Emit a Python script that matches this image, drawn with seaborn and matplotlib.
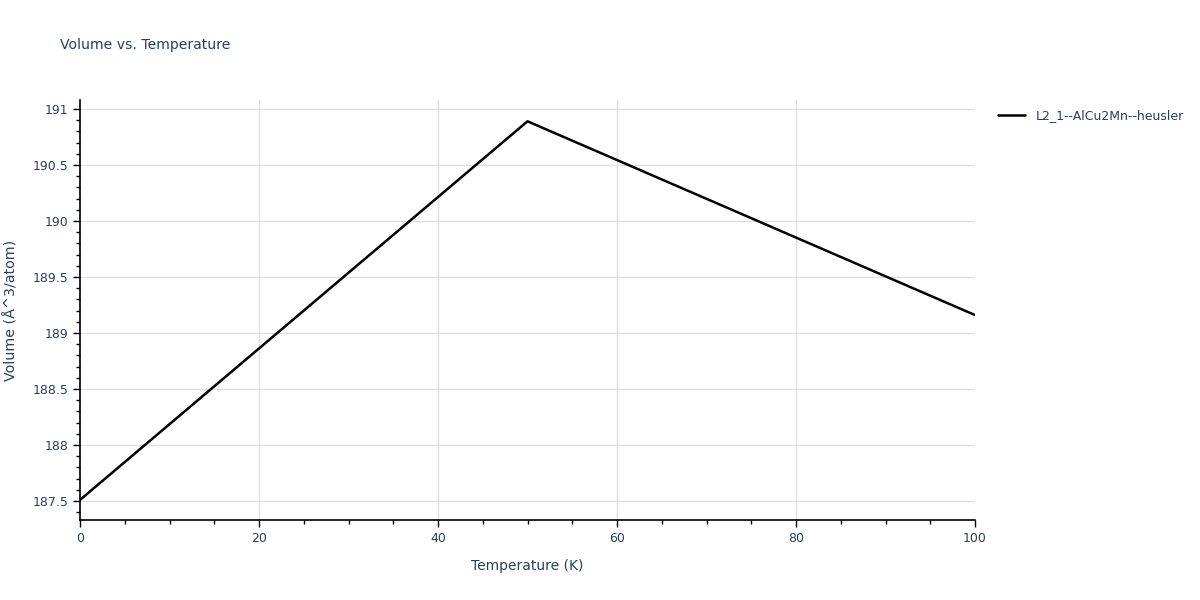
import pandas as pd
import numpy as np
import matplotlib.pyplot as plt
import seaborn as sns
from matplotlib.ticker import MultipleLocator

# values
temperature = [0, 50, 100]
volume = [187.51, 190.89, 189.16]
series_name = 'L2_1--AlCu2Mn--heusler'

df = pd.DataFrame({'Temperature': temperature, 'Volume': volume, 'Series': series_name})

sns.set_style('white')
plt.rcParams['font.family'] = ['DejaVu Sans']
text_col = '#2a3f5f'

fig = plt.figure(figsize=(12, 6), dpi=100)
ax = fig.add_axes([0.0667, 0.1333, 0.7458, 0.7])

sns.lineplot(data=df, x='Temperature', y='Volume', hue='Series', palette=['black'],
             linewidth=1.8, ax=ax, zorder=3)

ax.set_xlim(0, 100)
ax.xaxis.set_major_locator(MultipleLocator(20))
ax.xaxis.set_minor_locator(MultipleLocator(5))
yt = np.arange(187.5, 191.01, 0.5)
ax.set_yticks(yt)
ax.set_yticklabels(['%g' % v for v in yt])
ax.yaxis.set_minor_locator(MultipleLocator(0.1))
ax.set_ylim(187.33, 191.08)

# grid: horizontal on every y tick, vertical only inside the box
ax.grid(True, axis='y', which='major', color='#e0e0e0', linewidth=1)
for gx in [20, 40, 60, 80]:
    ax.axvline(gx, color='#e0e0e0', linewidth=1, zorder=0)

for side in ['top', 'right']:
    ax.spines[side].set_visible(False)
for side in ['left', 'bottom']:
    ax.spines[side].set_color('black')
    ax.spines[side].set_linewidth(1.2)

ax.tick_params(which='major', direction='out', length=5, width=1, color='black',
               labelsize=9, labelcolor=text_col, left=True, bottom=True)
ax.tick_params(which='minor', direction='out', length=3, width=1, color='black',
               left=True, bottom=True)

ax.set_xlabel('Temperature (K)', fontsize=10, color=text_col, labelpad=10)
ax.set_ylabel('Volume (Å^3/atom)', fontsize=10.3, color=text_col, labelpad=10)
fig.text(0.05, 0.925, 'Volume vs. Temperature', fontsize=10.1, color=text_col, va='center')

leg = ax.legend(loc='upper left', bbox_to_anchor=(1.02, 0.99), frameon=False,
                fontsize=9, handlelength=2.2, borderaxespad=0)
for t in leg.get_texts():
    t.set_color(text_col)

fig.savefig('out.png', dpi=100)
